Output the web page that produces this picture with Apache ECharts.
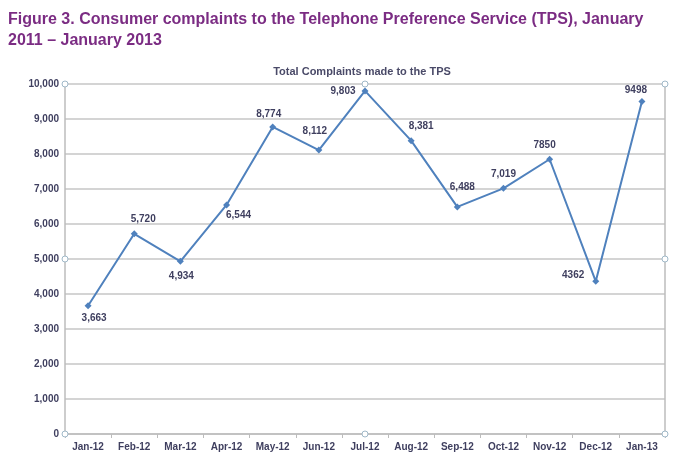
<!DOCTYPE html>
<html>
<head>
<meta charset="utf-8">
<script src="https://cdn.jsdelivr.net/npm/echarts@6/dist/echarts.min.js"></script>
<style>
  html, body { margin: 0; padding: 0; background: #fff; }
  #chart { width: 700px; height: 461px; }
</style>
</head>
<body>
<div id="chart"></div>
<script>
// data
const months = ['Jan-12', 'Feb-12', 'Mar-12', 'Apr-12', 'May-12', 'Jun-12', 'Jul-12',
    'Aug-12', 'Sep-12', 'Oct-12', 'Nov-12', 'Dec-12', 'Jan-13'];
const complaints = [3663, 5720, 4934, 6544, 8774, 8112, 9803, 8381, 6488, 7019, 7850, 4362, 9498];
// last three labels in the source have no thousands separator
const labelTexts = ['3,663', '5,720', '4,934', '6,544', '8,774', '8,112', '9,803',
    '8,381', '6,488', '7,019', '7850', '4362', '9498'];
const labelSides = ['bottom', 'top', 'bottom', 'bottom', 'top', 'top', 'left',
    'top', 'top', 'top', 'top', 'left', 'top'];
const labelNudges = [[6, -2], [9, 0], [1, 0], [12, -4], [-4, 2], [-4, -4], [0, 0],
    [10, 0], [5, -5], [0, 0], [-5, 0], [-2, -6], [-6, 3]];

const textColor = '#3f3f5f';
const lineColor = '#4f81bd';

// plot box
const G = { left: 65, right: 35, top: 84, bottom: 27 };
const W = 700, H = 461;

const chart = echarts.init(document.getElementById('chart'));

const seriesData = complaints.map(function (v, i) {
    return {
        value: v,
        label: { position: labelSides[i], formatter: labelTexts[i], offset: labelNudges[i] }
    };
});

// little selection handles around the plot (Excel style)
const handleStyle = { fill: '#fff', stroke: '#9fb8c8', lineWidth: 1 };
function handle(x, y) {
    return { type: 'circle', shape: { cx: x, cy: y, r: 3 }, style: handleStyle, z: 10 };
}
const x0 = G.left, x1 = W - G.right, xm = (x0 + x1) / 2;
const y0 = G.top, y1 = H - G.bottom, ym = (y0 + y1) / 2;

chart.setOption({
    animation: false,
    textStyle: { fontFamily: 'Liberation Sans, Arial, sans-serif' },
    graphic: [
        {
            type: 'text', left: 8, top: 9,
            style: {
                text: 'Figure 3. Consumer complaints to the Telephone Preference Service (TPS), January\n2011 \u2013 January 2013',
                fill: '#7b2c83', font: 'bold 16px Liberation Sans, Arial, sans-serif', lineHeight: 21
            }
        },
        handle(x0, y0), handle(xm, y0), handle(x1, y0),
        handle(x1, ym), handle(x1, y1), handle(xm, y1), handle(x0, y1), handle(x0, ym)
    ],
    title: {
        text: 'Total Complaints made to the TPS',
        left: 357, top: 61, textAlign: 'center',
        textStyle: { fontSize: 11, fontWeight: 'bold', color: '#4a4a68' }
    },
    grid: G,
    xAxis: {
        type: 'category',
        data: months,
        boundaryGap: true,
        axisLine: { lineStyle: { color: '#bcbcbc', width: 1.5 } },
        axisTick: { show: true, length: 4, lineStyle: { color: '#bcbcbc' } },
        axisLabel: { color: textColor, fontSize: 10, fontWeight: 'bold', margin: 8 }
    },
    yAxis: {
        type: 'value',
        min: 0, max: 10000, interval: 1000,
        axisLine: { show: true, lineStyle: { color: '#bcbcbc', width: 1.5 } },
        axisTick: { show: false },
        axisLabel: {
            color: textColor, fontSize: 10, fontWeight: 'bold', margin: 6,
            formatter: function (v) { return v.toLocaleString('en-US'); }
        },
        splitLine: { lineStyle: { color: '#c6c6c6', width: 1.5 } }
    },
    series: [{
        name: 'Total Complaints',
        type: 'line',
        data: seriesData,
        symbol: 'diamond',
        symbolSize: 7,
        itemStyle: { color: lineColor },
        lineStyle: { color: lineColor, width: 2 },
        label: { show: true, color: textColor, fontSize: 10, fontWeight: 'bold', distance: 6 },
        markLine: {
            silent: true, symbol: 'none', label: { show: false },
            lineStyle: { color: '#bcbcbc', type: 'solid', width: 1.5 },
            data: [[{ x: x1, y: y1 }, { x: x1, y: y0 }]]
        }
    }]
});
</script>
</body>
</html>
